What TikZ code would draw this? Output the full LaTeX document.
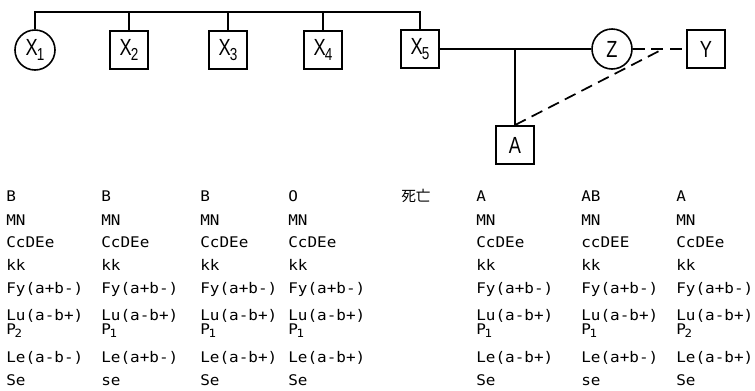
\documentclass[tikz,border=0pt]{standalone}
\usepackage{fontspec}
\newfontfamily\mono[FakeStretch=1.09]{DejaVu Sans Mono}
\newfontfamily\lab[FakeStretch=0.78]{Liberation Sans}
\newfontfamily\cjk{Noto Sans CJK JP}
\newcommand\lsub[1]{\kern-0.5pt\raisebox{-0.4ex}{\fontsize{13}{13}\selectfont #1}}
\newcommand\psub[1]{P\kern-1pt\raisebox{-2.5pt}{\fontsize{8.5}{9}\selectfont #1}}
\begin{document}
\begin{tikzpicture}[x=0.75pt,y=-0.75pt,
  person/.style={draw, line width=1.4pt, inner sep=0pt, font=\lab\fontsize{17.5}{18}\selectfont},
  sq/.style={person, rectangle, minimum size=28.5pt},
  circ/.style={person, circle, minimum size=30pt, line width=1.2pt},
  link/.style={line width=1.1pt},
  dlink/.style={line width=1.3pt, dash pattern=on 9pt off 5pt},
  gene/.style={anchor=base west, inner sep=0pt, font=\mono\fontsize{11}{11}\selectfont}]
\useasboundingbox (0,0) rectangle (755,390);
% persons
\node[circ] (x1) at (35,50) {X\lsub{1}};
\node[sq] (x2) at (129,50) {X\lsub{2}};
\node[sq] (x3) at (228,50) {X\lsub{3}};
\node[sq] (x4) at (323,50) {X\lsub{4}};
\node[sq] (x5) at (420,49) {X\lsub{5}};
\node[circ] (z) at (612,49) {Z};
\node[sq] (y) at (706,49) {Y};
\node[sq] (a) at (515,145) {A};
% sibship line
\coordinate (t) at (35,12);
\draw[link] (x1.north) -- (x1.north |- t) -- (x5.north |- t) -- (x5.north);
\foreach \n in {x2,x3,x4} \draw[link] (\n.north) -- (\n.north |- t);
% marriage and child
\draw[link] (x5.east) -- (z.west);
\draw[link] (a.north |- x5.east) -- (a.north);
% dashed relations
\coordinate (m) at (663,49);
\draw[dlink] (z.east) -- (y.west);
\draw[dlink] (a.north) -- (m);
% genotype columns
\foreach \c/\x/\abo/\cde/\pp/\le/\se in {
  1/6/B/CcDEe/2/a-b-/Se,
  2/101/B/CcDEe/1/a+b-/se,
  3/200/B/CcDEe/1/a-b+/Se,
  4/288/O/CcDEe/1/a-b+/Se,
  5/476/A/CcDEe/1/a-b+/Se,
  6/581/AB/ccDEE/1/a+b-/se,
  7/676/A/CcDEe/2/a-b+/Se}{
  \node[gene] (g\c-1) at (\x,201) {\abo};
  \node[gene] (g\c-2) at (\x,225) {MN};
  \node[gene] (g\c-3) at (\x,247) {\cde};
  \node[gene] (g\c-4) at (\x,270) {kk};
  \node[gene] (g\c-5) at (\x,293) {Fy(a+b-)};
  \node[gene] (g\c-6) at (\x,320) {Lu(a-b+)};
  \node[gene] (g\c-7) at (\x,334) {\psub{\pp}};
  \node[gene] (g\c-8) at (\x,362) {Le(\le)};
  \node[gene] (g\c-9) at (\x,385) {\se};
}
\node[anchor=base west, inner sep=0pt, font=\cjk\fontsize{11}{11}\selectfont] (dead) at (401,201) {死亡};
\end{tikzpicture}
\end{document}
